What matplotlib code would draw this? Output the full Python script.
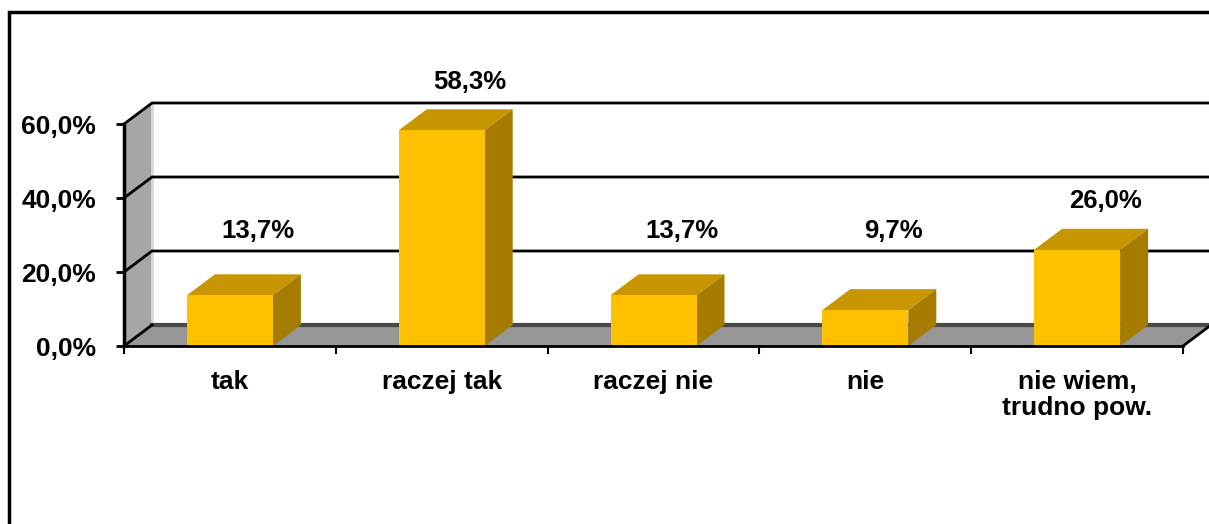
import matplotlib
matplotlib.use("Agg")
import matplotlib.pyplot as plt
from matplotlib.patches import Polygon, Rectangle

categories = ["tak", "raczej tak", "raczej nie", "nie", "nie wiem,\ntrudno pow."]
values = [13.7, 58.3, 13.7, 9.7, 26.0]
y_ticks = [0, 20, 40, 60]

FRONT = "#ffc000"
TOP = "#c89600"
SIDE = "#a67c00"
WALL = "#a6a6a6"
FLOOR = "#969696"

plt.rcParams["font.family"] = ["Liberation Sans", "DejaVu Sans"]

fig = plt.figure(figsize=(12.09, 5.24), dpi=100)
ax = fig.add_axes([124 / 1209, 178 / 524, 1059 / 1209, 222 / 524])
n = len(categories)
ax.set_xlim(0, n)
ax.set_ylim(0, 60)
for s in ax.spines.values():
    s.set_visible(False)

# depth of the 3d box in data units
dx = 28 / 1059 * n
dy = 21 / 222 * 60
top = y_ticks[-1]

# side wall and back wall
ax.add_patch(Polygon([(0, 0), (dx, dy), (dx, top + dy), (0, top)], closed=True,
                     facecolor=WALL, edgecolor="none", clip_on=False, zorder=1))
ax.plot([dx, dx], [dy, top + dy], color="#d9d9d9", lw=2, clip_on=False, zorder=1.5)
for t in y_ticks[1:]:
    ax.plot([0, dx, n + dx], [t, t + dy, t + dy], color="black", lw=2,
            clip_on=False, zorder=2)

# floor
ax.add_patch(Polygon([(0, 0), (n, 0), (n + dx, dy), (dx, dy)], closed=True,
                     facecolor=FLOOR, edgecolor="none", clip_on=False, zorder=2))
ax.plot([dx, n + dx], [dy, dy], color="#4a4a4a", lw=3, clip_on=False, zorder=2.5)
ax.plot([0, dx], [0, dy], color="black", lw=2, clip_on=False, zorder=2.5)
ax.plot([n, n + dx], [0, dy], color="black", lw=2, clip_on=False, zorder=2.5)

# axes lines
ax.plot([0, 0], [0, top], color="black", lw=2.5, clip_on=False, zorder=6)
ax.plot([0, n], [0, 0], color="black", lw=2, clip_on=False, zorder=6)

# bars
w = 86 / 1059 * n
for i, v in enumerate(values):
    x0 = i + 0.5 - w / 2
    x1 = i + 0.5 + w / 2
    ax.add_patch(Polygon([(x0, v), (x1, v), (x1 + dx, v + dy), (x0 + dx, v + dy)],
                         closed=True, facecolor=TOP, edgecolor="none", clip_on=False, zorder=4))
    ax.add_patch(Polygon([(x1, 0), (x1 + dx, dy), (x1 + dx, v + dy), (x1, v)],
                         closed=True, facecolor=SIDE, edgecolor="none", clip_on=False, zorder=4))
    ax.add_patch(Rectangle((x0, 0), w, v, facecolor=FRONT, edgecolor="none",
                           clip_on=False, zorder=5))
    label_y = max(v + dy + 7.5, 31)
    ax.text(i + 0.5 + dx, label_y, f"{v:.1f}%".replace(".", ","), ha="center",
            va="center", fontsize=18.5, fontweight="bold", color="black", zorder=7)

# ticks
ax.set_yticks(y_ticks)
ax.set_yticklabels([f"{t:.1f}%".replace(".", ",") for t in y_ticks],
                   fontsize=19, fontweight="bold")
ax.tick_params(axis="y", direction="out", length=6, width=2, pad=14)
ax.set_xticks(range(n + 1))
ax.set_xticklabels([])
ax.tick_params(axis="x", which="major", direction="out", length=6, width=1.5)
ax.set_xticks([i + 0.5 for i in range(n)], minor=True)
ax.set_xticklabels(categories, minor=True, fontsize=19, fontweight="bold",
                   linespacing=1.1)
ax.tick_params(axis="x", which="minor", length=0, pad=17)
ax.patch.set_visible(False)

# outer frame
fig.add_artist(Rectangle((9 / 1209, -0.1), 1.2, 1 - 12 / 524 + 0.1,
                         transform=fig.transFigure, fill=False,
                         edgecolor="black", lw=2.5))

fig.savefig("out.png", dpi=100)
